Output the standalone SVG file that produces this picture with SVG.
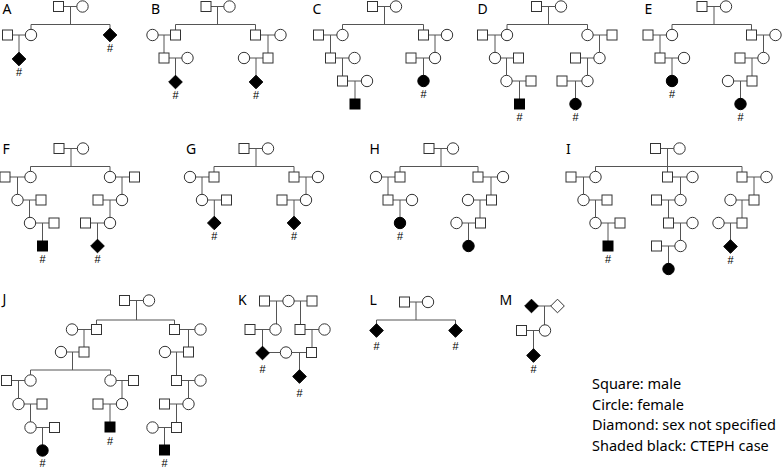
<svg xmlns="http://www.w3.org/2000/svg" xmlns:xlink="http://www.w3.org/1999/xlink" width="784" height="476" viewBox="0 0 784 476">
<style>
.n use{fill:#fff;stroke:#333;stroke-width:1}
.n use.a{fill:#000;stroke:#000}
.c path{fill:none;stroke:#555;stroke-width:1}
.lbl{font-family:"Noto Sans","Liberation Sans",sans-serif;font-size:14px;fill:#000}
.h{font-family:"Liberation Sans","DejaVu Sans",sans-serif;font-size:11px;fill:#000;text-anchor:middle}
.leg{font-family:"Noto Sans","Liberation Sans",sans-serif;font-size:14.5px;fill:#000}
</style>
<defs>
<rect id="sq" x="-5" y="-5" width="10" height="10"/>
<circle id="ci" r="5.7"/>
<path id="dm" d="M0,-6.8L6.8,0 0,6.8-6.8,0Z"/>
</defs>
<rect width="784" height="476" fill="#fff"/>
<g id="labels">
<text class="lbl" x="2.5" y="14">A</text>
<text class="lbl" x="151" y="14">B</text>
<text class="lbl" x="312.5" y="14">C</text>
<text class="lbl" x="477.5" y="14">D</text>
<text class="lbl" x="644.5" y="14">E</text>
<text class="lbl" x="2.5" y="153.5">F</text>
<text class="lbl" x="186" y="154">G</text>
<text class="lbl" x="369.5" y="153.5">H</text>
<text class="lbl" x="566" y="153.5">I</text>
<text class="lbl" x="2.5" y="304">J</text>
<text class="lbl" x="238" y="304.5">K</text>
<text class="lbl" x="369.5" y="304.5">L</text>
<text class="lbl" x="499.5" y="304.5">M</text>
</g>
<g id="connectors" class="c">
<path id="cA" d="M58.5 6.5H82.5M70.5 6.5V24.5M31 24.5H110M31 24.5V35M110 24.5V35M7.5 35H31M19 35V59"/>
<path id="cB" d="M206 6.5H229.5M217.5 6.5V24.5M175.5 24.5H255.5M175.5 24.5V35M255.5 24.5V35M152.5 35H175.5M164 35V58M164 58H187.5M175.5 58V82M255.5 35H280.5M268 35V58M244 58H268M256 58V82"/>
<path id="cC" d="M372.5 6.5H396M384.5 6.5V24.5M342.5 24.5H423.5M342.5 24.5V35M423.5 24.5V35M318.5 35H342.5M330.5 35V58M330.5 58H354.5M342.5 58V81M342.5 81H367M355 81V104M423.5 35H447M435 35V58M411 58H435M423.5 58V81"/>
<path id="cD" d="M536.5 6.5H561M548.5 6.5V24.5M507 24.5H587.5M507 24.5V35M587.5 24.5V35M482.5 35H507M495 35V58M495 58H518.5M506.5 58V81M506.5 81H531M519.5 81V104M587.5 35H612M599.5 35V58M575.5 58H599.5M587.5 58V81M562 81H587.5M575.5 81V104"/>
<path id="cE" d="M702 6.5H726M714 6.5V24.5M672 24.5H751.5M672 24.5V35M751.5 24.5V35M648 35H672M660 35V58M660 58H684M672 58V81M751.5 35H775.5M763.5 35V58M740 58H763.5M752 58V81M728 81H752M740.5 81V104"/>
<path id="cF" d="M59 148.5H83M71 148.5V166.5M30.5 166.5H110M30.5 166.5V177M110 166.5V177M5 177H30.5M17.5 177V200M17.5 200H41M29.5 200V223M30 223H54M42.5 223V246M110 177H134.5M122 177V200M98 200H122M110 200V223M85.5 223H110M97.5 223V246"/>
<path id="cG" d="M244 148.5H268M256 148.5V166.5M214 166.5H294M214 166.5V177M294 166.5V177M190 177H214M202 177V200M202 200H226.5M214.3 200V223M294 177H318M306 177V200M282 200H306M294 200V223"/>
<path id="cH" d="M429 148.5H453M441 148.5V166.5M400 166.5H478M400 166.5V177M478 166.5V177M376 177H400M388 177V200M388 200H412M400 200V223M478 177H503M491 177V200M468 200H491.5M480 200V223M456.5 223H480.5M468.5 223V246"/>
<path id="cI" d="M655.5 148.5H679.5M667.5 148.5V177M595.5 166.5H742M595.5 166.5V177M742 166.5V177M571 177H595.5M583.5 177V200M583.5 200H607M595.5 200V223M595.5 223H620M608 223V246M667.5 177H692.5M680.5 177V200M656.5 200H680.5M668.5 200V223M668.5 223H692.5M680.5 223V246M656.5 246H680.5M668.5 246V269M742 177H766.5M754 177V200M730.5 200H754M742 200V223M718.5 223H742M730.5 223V246"/>
<path id="cJ" d="M124.5 300.5H149M136.5 300.5V320M96.5 320H174.5M96.5 320V329.5M174.5 320V329.5M72 329.5H96.5M84 329.5V352M61 352H84M72.5 352V370M30.5 370H110.5M30.5 370V380.5M110.5 370V380.5M6.5 380.5H30.5M18.5 380.5V404M18.5 404H42M30.5 404V427.5M30.5 427.5H54.5M42.5 427.5V450.5M110.5 380.5H133.5M122 380.5V404M98 404H122M110 404V427M174.5 329.5H200.5M188.5 329.5V352M165 352H188.5M176.5 352V380.5M176.5 380.5H200.5M188.5 380.5V404M164.5 404H188.5M176.5 404V427.5M152.5 427.5H176.5M164.5 427.5V450"/>
<path id="cK" d="M264.5 301H312M276.5 301V329.5M300.5 301V329.5M250 329.5H275.5M262.5 329.5V353M300 329.5H324.5M312 329.5V352.5M262.5 352.5H311.5M299.5 352.5V376.5"/>
<path id="cL" d="M404.5 302H428M416 302V320M376.5 320H455.5M376.5 320V330.5M455.5 320V330.5"/>
<path id="cM" d="M531.5 306H557.5M544.5 306V330.5M521.5 330.5H545M533.5 330.5V355.5"/>
</g>
<g id="nodes" class="n">
<g id="A1"><use href="#sq" x="58.5" y="6.5"/></g>
<g id="A2"><use href="#ci" x="82.5" y="6.5"/></g>
<g id="A3"><use href="#sq" x="7.5" y="35"/></g>
<g id="A4"><use href="#ci" x="31" y="35"/></g>
<g id="A5"><use class="a" href="#dm" x="19" y="59"/><text class="h" x="19" y="76">#</text></g>
<g id="A6"><use class="a" href="#dm" x="110" y="35"/><text class="h" x="110" y="52">#</text></g>
<g id="B1"><use href="#sq" x="206" y="6.5"/></g>
<g id="B2"><use href="#ci" x="229.5" y="6.5"/></g>
<g id="B3"><use href="#ci" x="152.5" y="35"/></g>
<g id="B4"><use href="#sq" x="175.5" y="35"/></g>
<g id="B5"><use href="#sq" x="164" y="58"/></g>
<g id="B6"><use href="#ci" x="187.5" y="58"/></g>
<g id="B7"><use class="a" href="#dm" x="175.5" y="82"/><text class="h" x="175.5" y="99">#</text></g>
<g id="B8"><use href="#sq" x="255.5" y="35"/></g>
<g id="B9"><use href="#ci" x="280.5" y="35"/></g>
<g id="B10"><use href="#ci" x="244" y="58"/></g>
<g id="B11"><use href="#sq" x="268" y="58"/></g>
<g id="B12"><use class="a" href="#dm" x="256" y="82"/><text class="h" x="256" y="99">#</text></g>
<g id="C1"><use href="#sq" x="372.5" y="6.5"/></g>
<g id="C2"><use href="#ci" x="396" y="6.5"/></g>
<g id="C3"><use href="#sq" x="318.5" y="35"/></g>
<g id="C4"><use href="#ci" x="342.5" y="35"/></g>
<g id="C5"><use href="#sq" x="330.5" y="58"/></g>
<g id="C6"><use href="#ci" x="354.5" y="58"/></g>
<g id="C7"><use href="#sq" x="342.5" y="81"/></g>
<g id="C8"><use href="#ci" x="367" y="81"/></g>
<g id="C9"><use class="a" href="#sq" x="355" y="104"/></g>
<g id="C10"><use href="#sq" x="423.5" y="35"/></g>
<g id="C11"><use href="#ci" x="447" y="35"/></g>
<g id="C12"><use href="#sq" x="411" y="58"/></g>
<g id="C13"><use href="#ci" x="435" y="58"/></g>
<g id="C14"><use class="a" href="#ci" x="423.5" y="81"/><text class="h" x="423.5" y="98">#</text></g>
<g id="D1"><use href="#sq" x="536.5" y="6.5"/></g>
<g id="D2"><use href="#ci" x="561" y="6.5"/></g>
<g id="D3"><use href="#sq" x="482.5" y="35"/></g>
<g id="D4"><use href="#ci" x="507" y="35"/></g>
<g id="D5"><use href="#ci" x="495" y="58"/></g>
<g id="D6"><use href="#sq" x="518.5" y="58"/></g>
<g id="D7"><use href="#ci" x="506.5" y="81"/></g>
<g id="D8"><use href="#sq" x="531" y="81"/></g>
<g id="D9"><use class="a" href="#sq" x="519.5" y="104"/><text class="h" x="519.5" y="121">#</text></g>
<g id="D10"><use href="#ci" x="587.5" y="35"/></g>
<g id="D11"><use href="#sq" x="612" y="35"/></g>
<g id="D12"><use href="#sq" x="575.5" y="58"/></g>
<g id="D13"><use href="#ci" x="599.5" y="58"/></g>
<g id="D14"><use href="#sq" x="562" y="81"/></g>
<g id="D15"><use href="#ci" x="587.5" y="81"/></g>
<g id="D16"><use class="a" href="#ci" x="575.5" y="104"/><text class="h" x="575.5" y="121">#</text></g>
<g id="E1"><use href="#sq" x="702" y="6.5"/></g>
<g id="E2"><use href="#ci" x="726" y="6.5"/></g>
<g id="E3"><use href="#sq" x="648" y="35"/></g>
<g id="E4"><use href="#ci" x="672" y="35"/></g>
<g id="E5"><use href="#sq" x="660" y="58"/></g>
<g id="E6"><use href="#ci" x="684" y="58"/></g>
<g id="E7"><use class="a" href="#ci" x="672" y="81"/><text class="h" x="672" y="98">#</text></g>
<g id="E8"><use href="#sq" x="751.5" y="35"/></g>
<g id="E9"><use href="#ci" x="775.5" y="35"/></g>
<g id="E10"><use href="#sq" x="740" y="58"/></g>
<g id="E11"><use href="#ci" x="763.5" y="58"/></g>
<g id="E12"><use href="#ci" x="728" y="81"/></g>
<g id="E13"><use href="#sq" x="752" y="81"/></g>
<g id="E14"><use class="a" href="#ci" x="740.5" y="104"/><text class="h" x="740.5" y="121">#</text></g>
<g id="F1"><use href="#sq" x="59" y="148.5"/></g>
<g id="F2"><use href="#ci" x="83" y="148.5"/></g>
<g id="F3"><use href="#sq" x="5" y="177"/></g>
<g id="F4"><use href="#ci" x="30.5" y="177"/></g>
<g id="F5"><use href="#ci" x="17.5" y="200"/></g>
<g id="F6"><use href="#sq" x="41" y="200"/></g>
<g id="F7"><use href="#ci" x="30" y="223"/></g>
<g id="F8"><use href="#sq" x="54" y="223"/></g>
<g id="F9"><use class="a" href="#sq" x="42.5" y="246"/><text class="h" x="42.5" y="263">#</text></g>
<g id="F10"><use href="#ci" x="110" y="177"/></g>
<g id="F11"><use href="#sq" x="134.5" y="177"/></g>
<g id="F12"><use href="#sq" x="98" y="200"/></g>
<g id="F13"><use href="#ci" x="122" y="200"/></g>
<g id="F14"><use href="#sq" x="85.5" y="223"/></g>
<g id="F15"><use href="#ci" x="110" y="223"/></g>
<g id="F16"><use class="a" href="#dm" x="97.5" y="246"/><text class="h" x="97.5" y="263">#</text></g>
<g id="G1"><use href="#sq" x="244" y="148.5"/></g>
<g id="G2"><use href="#ci" x="268" y="148.5"/></g>
<g id="G3"><use href="#ci" x="190" y="177"/></g>
<g id="G4"><use href="#sq" x="214" y="177"/></g>
<g id="G5"><use href="#ci" x="202" y="200"/></g>
<g id="G6"><use href="#sq" x="226.5" y="200"/></g>
<g id="G7"><use class="a" href="#dm" x="214.3" y="223"/><text class="h" x="214.3" y="240">#</text></g>
<g id="G8"><use href="#sq" x="294" y="177"/></g>
<g id="G9"><use href="#ci" x="318" y="177"/></g>
<g id="G10"><use href="#sq" x="282" y="200"/></g>
<g id="G11"><use href="#ci" x="306" y="200"/></g>
<g id="G12"><use class="a" href="#dm" x="294" y="223"/><text class="h" x="294" y="240">#</text></g>
<g id="H1"><use href="#sq" x="429" y="148.5"/></g>
<g id="H2"><use href="#ci" x="453" y="148.5"/></g>
<g id="H3"><use href="#ci" x="376" y="177"/></g>
<g id="H4"><use href="#sq" x="400" y="177"/></g>
<g id="H5"><use href="#sq" x="388" y="200"/></g>
<g id="H6"><use href="#ci" x="412" y="200"/></g>
<g id="H7"><use class="a" href="#ci" x="400" y="223"/><text class="h" x="400" y="240">#</text></g>
<g id="H8"><use href="#sq" x="478" y="177"/></g>
<g id="H9"><use href="#ci" x="503" y="177"/></g>
<g id="H10"><use href="#ci" x="468" y="200"/></g>
<g id="H11"><use href="#sq" x="491.5" y="200"/></g>
<g id="H12"><use href="#ci" x="456.5" y="223"/></g>
<g id="H13"><use href="#sq" x="480.5" y="223"/></g>
<g id="H14"><use class="a" href="#ci" x="468.5" y="246"/></g>
<g id="I1"><use href="#sq" x="655.5" y="148.5"/></g>
<g id="I2"><use href="#ci" x="679.5" y="148.5"/></g>
<g id="I3"><use href="#sq" x="571" y="177"/></g>
<g id="I4"><use href="#ci" x="595.5" y="177"/></g>
<g id="I5"><use href="#ci" x="583.5" y="200"/></g>
<g id="I6"><use href="#sq" x="607" y="200"/></g>
<g id="I7"><use href="#ci" x="595.5" y="223"/></g>
<g id="I8"><use href="#sq" x="620" y="223"/></g>
<g id="I9"><use class="a" href="#sq" x="608" y="246"/><text class="h" x="608" y="263">#</text></g>
<g id="I10"><use href="#sq" x="667.5" y="177"/></g>
<g id="I11"><use href="#ci" x="692.5" y="177"/></g>
<g id="I12"><use href="#sq" x="656.5" y="200"/></g>
<g id="I13"><use href="#ci" x="680.5" y="200"/></g>
<g id="I14"><use href="#sq" x="668.5" y="223"/></g>
<g id="I15"><use href="#ci" x="692.5" y="223"/></g>
<g id="I16"><use href="#sq" x="656.5" y="246"/></g>
<g id="I17"><use href="#ci" x="680.5" y="246"/></g>
<g id="I18"><use class="a" href="#ci" x="668.5" y="269"/></g>
<g id="I19"><use href="#sq" x="742" y="177"/></g>
<g id="I20"><use href="#ci" x="766.5" y="177"/></g>
<g id="I21"><use href="#ci" x="730.5" y="200"/></g>
<g id="I22"><use href="#sq" x="754" y="200"/></g>
<g id="I23"><use href="#ci" x="718.5" y="223"/></g>
<g id="I24"><use href="#sq" x="742" y="223"/></g>
<g id="I25"><use class="a" href="#dm" x="730.5" y="246.5"/><text class="h" x="730.5" y="264">#</text></g>
<g id="J1"><use href="#sq" x="124.5" y="300.5"/></g>
<g id="J2"><use href="#ci" x="149" y="300.5"/></g>
<g id="J3"><use href="#ci" x="72" y="329.5"/></g>
<g id="J4"><use href="#sq" x="96.5" y="329.5"/></g>
<g id="J5"><use href="#ci" x="61" y="352"/></g>
<g id="J6"><use href="#sq" x="84" y="352"/></g>
<g id="J7"><use href="#sq" x="6.5" y="380.5"/></g>
<g id="J8"><use href="#ci" x="30.5" y="380.5"/></g>
<g id="J9"><use href="#ci" x="18.5" y="404"/></g>
<g id="J10"><use href="#sq" x="42" y="404"/></g>
<g id="J11"><use href="#ci" x="30.5" y="427.5"/></g>
<g id="J12"><use href="#sq" x="54.5" y="427.5"/></g>
<g id="J13"><use class="a" href="#ci" x="42.5" y="450.5"/><text class="h" x="42.5" y="467">#</text></g>
<g id="J14"><use href="#ci" x="110.5" y="380.5"/></g>
<g id="J15"><use href="#sq" x="133.5" y="380.5"/></g>
<g id="J16"><use href="#sq" x="98" y="404"/></g>
<g id="J17"><use href="#ci" x="122" y="404"/></g>
<g id="J18"><use class="a" href="#sq" x="110" y="427"/><text class="h" x="110" y="444.5">#</text></g>
<g id="J19"><use href="#sq" x="174.5" y="329.5"/></g>
<g id="J20"><use href="#ci" x="200.5" y="329.5"/></g>
<g id="J21"><use href="#ci" x="165" y="352"/></g>
<g id="J22"><use href="#sq" x="188.5" y="352"/></g>
<g id="J23"><use href="#sq" x="176.5" y="380.5"/></g>
<g id="J24"><use href="#ci" x="200.5" y="380.5"/></g>
<g id="J25"><use href="#sq" x="164.5" y="404"/></g>
<g id="J26"><use href="#ci" x="188.5" y="404"/></g>
<g id="J27"><use href="#ci" x="152.5" y="427.5"/></g>
<g id="J28"><use href="#sq" x="176.5" y="427.5"/></g>
<g id="J29"><use class="a" href="#sq" x="164.5" y="450"/><text class="h" x="164.5" y="467">#</text></g>
<g id="K1"><use href="#sq" x="264.5" y="301"/></g>
<g id="K2"><use href="#ci" x="288.5" y="301"/></g>
<g id="K3"><use href="#sq" x="312" y="301"/></g>
<g id="K4"><use href="#sq" x="250" y="329.5"/></g>
<g id="K5"><use href="#ci" x="275.5" y="329.5"/></g>
<g id="K6"><use href="#sq" x="300" y="329.5"/></g>
<g id="K7"><use href="#ci" x="324.5" y="329.5"/></g>
<g id="K8"><use class="a" href="#dm" x="262.5" y="353"/><text class="h" x="262.5" y="373">#</text></g>
<g id="K9"><use href="#ci" x="286" y="352.5"/></g>
<g id="K10"><use href="#sq" x="311.5" y="352.5"/></g>
<g id="K11"><use class="a" href="#dm" x="299.5" y="376.5"/><text class="h" x="299.5" y="397">#</text></g>
<g id="L1"><use href="#sq" x="404.5" y="302"/></g>
<g id="L2"><use href="#ci" x="428" y="302"/></g>
<g id="L3"><use class="a" href="#dm" x="376.5" y="330.5"/><text class="h" x="376.5" y="350">#</text></g>
<g id="L4"><use class="a" href="#dm" x="455.5" y="330.5"/><text class="h" x="455.5" y="350">#</text></g>
<g id="M1"><use class="a" href="#dm" x="531.5" y="306"/></g>
<g id="M2"><use href="#dm" x="557.5" y="306"/></g>
<g id="M3"><use href="#sq" x="521.5" y="330.5"/></g>
<g id="M4"><use href="#ci" x="545" y="330.5"/></g>
<g id="M5"><use class="a" href="#dm" x="533.5" y="355.5"/><text class="h" x="533.5" y="373">#</text></g>
</g>
<g id="legend">
<text class="leg" x="592" y="389">Square: male</text>
<text class="leg" x="592" y="409.5">Circle: female</text>
<text class="leg" x="592" y="430">Diamond: sex not specified</text>
<text class="leg" x="592" y="450.5">Shaded black: CTEPH case</text>
</g>
</svg>
